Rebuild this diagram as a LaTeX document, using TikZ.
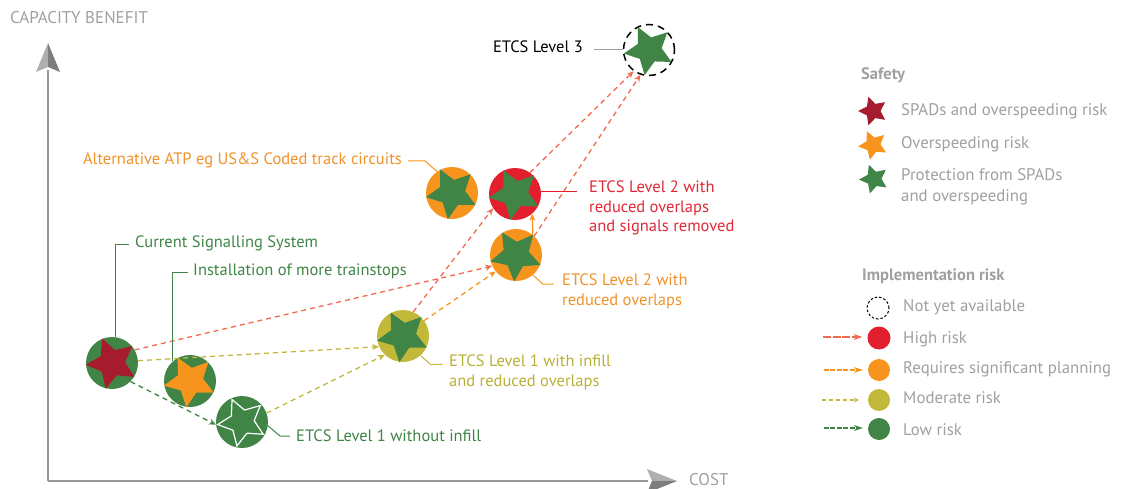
\documentclass[tikz,border=0pt]{standalone}
\usepackage{fontspec}
\setmainfont{PT Sans}
\usetikzlibrary{shapes.geometric,arrows.meta}
\definecolor{cgreen}{RGB}{64,133,70}
\definecolor{cdred}{RGB}{166,28,46}
\definecolor{corange}{RGB}{247,148,30}
\definecolor{cred}{RGB}{227,30,45}
\definecolor{colive}{RGB}{194,185,58}
\definecolor{csalmon}{RGB}{242,107,79}
\definecolor{cgray}{RGB}{160,160,160}
\definecolor{axgray}{RGB}{150,150,150}
\definecolor{axlight}{RGB}{175,175,175}
\definecolor{axdark}{RGB}{125,125,125}
\definecolor{tolive}{RGB}{185,176,55}
\definecolor{torange}{RGB}{240,146,43}
\definecolor{tred}{RGB}{224,40,55}
\begin{document}
\begin{tikzpicture}[x=1pt,y=-1pt,
  disc/.style={circle,minimum size=52pt,inner sep=0pt,fill=#1},
  stshape/.style={star,star points=5,star point ratio=2.0,minimum size=53pt,inner sep=0pt,fill=#1},
  lbl/.style={font=\fontsize{16.5}{19.5}\selectfont,inner sep=0pt,align=left,text=#1},
  leg/.style={font=\fontsize{16.8}{21}\selectfont,inner sep=0pt,align=left,text=cgray,anchor=west},
  legh/.style={font=\fontsize{16.5}{20}\bfseries\selectfont,inner sep=0pt,text=cgray,anchor=west},
  arr/.style={draw=#1,line width=1.3pt,dash pattern=on 5pt off 4pt,-{Stealth[length=7pt,width=6pt]}},
  lead/.style={draw=#1,line width=1pt},
]
\useasboundingbox (0,0) rectangle (1131,489);

% axes
\draw[axgray,line width=1.3pt] (48,481) -- (48,70);
\draw[axgray,line width=1.3pt] (48,481) -- (648,481);
\fill[axlight] (48,43) -- (36,72) -- (48,67) -- cycle;
\fill[axdark] (48,43) -- (60,72) -- (48,67) -- cycle;
\fill[axlight] (677,481) -- (647,469) -- (652,481) -- cycle;
\fill[axdark] (677,481) -- (647,493) -- (652,481) -- cycle;
\node[font=\fontsize{17}{18}\selectfont,text=cgray,anchor=west,inner sep=0pt] (ylab) at (10,18) {CAPACITY BENEFIT};
\node[font=\fontsize{17}{18}\selectfont,text=cgray,anchor=base west,inner sep=0pt] (xlab) at (689,485.5) {COST};

% discs
\node[disc=cgreen] (cur) at (112,363) {};
\node[disc=cgreen] (tsp) at (190,381) {};
\node[disc=cgreen] (l1) at (242,422) {};
\node[disc=colive] (l1i) at (403,336) {};
\node[disc=corange] (l2r) at (516,255) {};
\node[disc=cred] (l2s) at (515,194) {};
\node[disc=corange] (alt) at (452,193) {};
\node[circle,minimum size=51pt,inner sep=0pt,draw=black,line width=1.5pt,dash pattern=on 7pt off 5pt] (l3) at (649,50) {};

% stars
\node[stshape=cdred,rotate=22] (curs) at (cur) {};
\node[stshape=corange,rotate=28] (tsps) at (tsp) {};
\node[stshape=cgreen,draw=white,line width=1.2pt,minimum size=49pt,rotate=24] (l1s) at (l1) {};
\node[stshape=cgreen,rotate=28] (l1is) at (l1i) {};
\node[stshape=cgreen,rotate=32] (l2rs) at (l2r) {};
\node[stshape=cgreen,rotate=26] (l2ss) at (l2s) {};
\node[stshape=cgreen,rotate=27] (alts) at (alt) {};
\node[stshape=cgreen,rotate=26,minimum size=51pt] (l3s) at (l3) {};

% connectors
\draw[arr=colive] (cur.5) -- (l1i.204);
\draw[arr=cgreen] (cur.-45) -- (l1.186);
\draw[arr=csalmon] (cur.30) -- (l2r.205);
\draw[arr=colive] (l1.20) -- (l1i.226);
\draw[arr=corange] (l1i.36) -- (l2r.219);
\draw[arr=csalmon] (l1i.67) -- (l2s.213);
\draw[draw=corange,line width=1.3pt,-{Stealth[length=7pt,width=6pt]}] (l2r.50) -- (l2s.-49);
\draw[arr=csalmon] (l2s.55) -- (l3.234);
\draw[arr=csalmon] (l2r.46) -- (l3.251);

% labels
\node[lbl=black,anchor=east] (l3lbl) at (583,47) {ETCS Level 3};
\draw[lead=cgray] (l3lbl.east) ++(11,3) -- (l3.west);
\node[lbl=torange,anchor=east] (altlbl) at (402,160) {Alternative ATP eg US\&S Coded track circuits};
\draw[lead=corange] (altlbl.east) ++(6,1) -- ++(17,0) -- (alt.125);
\node[lbl=tred,anchor=north west] (l2slbl) at (589,181) {ETCS Level 2 with\\reduced overlaps\\and signals removed};
\draw[lead=cred] (l2s.5) -- ++(36,0);
\node[lbl=cgreen,anchor=west] (curlbl) at (135,243) {Current Signalling System};
\draw[lead=cgreen] (curlbl.west) ++(-6,1) -| (cur.83);
\node[lbl=cgreen,anchor=west] (tsplbl) at (193,271) {Installation of more trainstops};
\draw[lead=cgreen] (tsplbl.west) ++(-5,1) -| (tsp.131);
\node[lbl=torange,anchor=north west] (l2rlbl) at (562,274) {ETCS Level 2 with\\reduced overlaps};
\draw[lead=corange] (l2r.-50) -- ++(10,9) -- ++(11,0);
\node[lbl=tolive,anchor=north west] (l1ilbl) at (449,355) {ETCS Level 1 with infill\\and reduced overlaps};
\draw[lead=colive] (l1i.-48) -- ++(10,9) -- ++(12,0);
\node[lbl=cgreen,anchor=west] (l1lbl) at (296,436) {ETCS Level 1 without infill};
\draw[lead=cgreen] (l1lbl.west) ++(-6,0) -- ++(-10,0) -- (l1.-8);

% legend: safety
\node[legh] (safety) at (861,75) {Safety};
\node[stshape=cdred,minimum size=30pt,rotate=18] (ls1) at (873,111) {};
\node[stshape=corange,minimum size=30pt,rotate=24] (ls2) at (873,145) {};
\node[stshape=cgreen,minimum size=30pt,rotate=20] (ls3) at (874,179) {};
\node[leg] (lt1) at (901,111) {SPADs and overspeeding risk};
\node[leg] (lt2) at (901,144) {Overspeeding risk};
\node[leg,anchor=north west] (lt3) at (901,168) {Protection from SPADs\\and overspeeding};

% legend: implementation risk
\node[legh] (impl) at (862,276) {Implementation risk};
\node[circle,minimum size=22pt,inner sep=0pt,draw=black,line width=1pt,dash pattern=on 2.5pt off 2pt] (lc0) at (878,308) {};
\node[disc=cred,minimum size=23pt] (lc1) at (879,338) {};
\node[disc=corange,minimum size=22pt] (lc2) at (879,370) {};
\node[disc=colive,minimum size=22pt] (lc3) at (879,400) {};
\node[disc=cgreen,minimum size=22pt] (lc4) at (879,429) {};
\draw[draw=csalmon,line width=1.2pt,dash pattern=on 8pt off 1.5pt,-{Stealth[length=9pt,width=6pt]}] (lc1.west) ++(-44,-1) -- ++(39,0);
\draw[draw=corange,line width=1.2pt,dash pattern=on 5pt off 1.5pt,-{Stealth[length=9pt,width=6pt]}] (lc2.west) ++(-44,0) -- ++(39,0);
\draw[draw=colive,line width=1.2pt,dash pattern=on 4pt off 3pt,-{Stealth[length=5pt,width=5pt]}] (lc3.west) ++(-46,0) -- ++(37,0);
\draw[draw=cgreen,line width=1.2pt,dash pattern=on 5pt off 1.5pt,-{Stealth[length=9pt,width=6pt]}] (lc4.west) ++(-44,-1) -- ++(39,0);
\node[leg] (li0) at (903,307) {Not yet available};
\node[leg] (li1) at (903,339) {High risk};
\node[leg] (li2) at (903,369) {Requires significant planning};
\node[leg] (li3) at (903,398) {Moderate risk};
\node[leg] (li4) at (903,430) {Low risk};
\end{tikzpicture}
\end{document}
